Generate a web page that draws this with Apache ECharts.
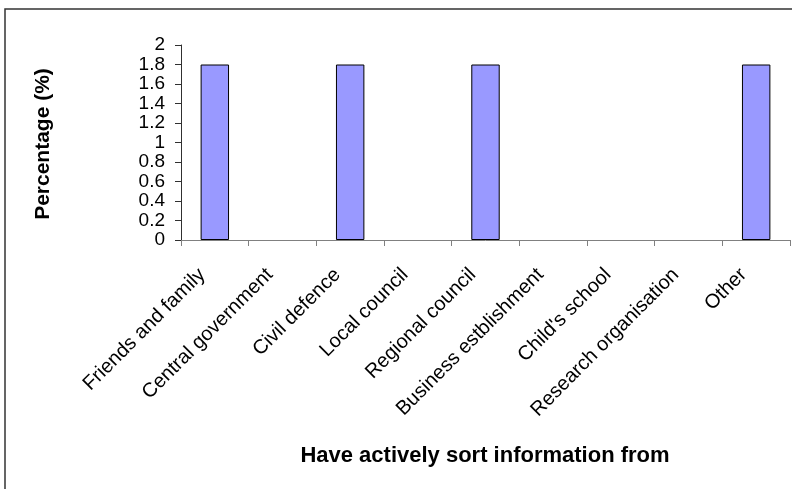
<!DOCTYPE html>
<html>
<head>
<meta charset="utf-8">
<script src="https://cdn.jsdelivr.net/npm/echarts@6/dist/echarts.min.js"></script>
<style>
  html, body { margin: 0; padding: 0; background: #fff; }
  #chart { width: 792px; height: 489px; }
</style>
</head>
<body>
<div id="chart"></div>
<script>
// Sources people actively sought information from
const categories = [
  'Friends and family',
  'Central government',
  'Civil defence',
  'Local council',
  'Regional council',
  'Business estblishment',
  "Child's school",
  'Research organisation',
  'Other'
];
const percentages = [1.8, 0, 1.8, 0, 1.8, 0, 0, 0, 1.8];

const xTitle = 'Have actively sort information from';
const yTitle = 'Percentage (%)';

const FONT = 'Liberation Sans, Arial, sans-serif';

// Zero-height bars get no outline so nothing is drawn for them
const barData = percentages.map(v => (
  v === 0 ? { value: v, itemStyle: { borderWidth: 0 } } : { value: v }
));

const chart = echarts.init(document.getElementById('chart'), null, { renderer: 'canvas' });

chart.setOption({
  animation: false,
  backgroundColor: '#ffffff',
  grid: { left: 181, right: 2, top: 45, bottom: 249, containLabel: false },
  xAxis: {
    type: 'category',
    data: categories,
    boundaryGap: true,
    axisLine: { lineStyle: { color: '#808080', width: 1 } },
    axisTick: { show: true, length: 6, inside: false, lineStyle: { color: '#808080' } },
    axisLabel: {
      interval: 0,
      rotate: 45,
      margin: 19,
      padding: [0, 18, 0, 0],
      color: '#000',
      fontFamily: FONT,
      fontSize: 20
    },
    splitLine: { show: false }
  },
  yAxis: {
    type: 'value',
    min: 0,
    max: 2,
    interval: 0.2,
    axisLine: { show: true, lineStyle: { color: '#303030', width: 1 } },
    axisTick: { show: true, length: 6, lineStyle: { color: '#303030' } },
    axisLabel: {
      margin: 16,
      showMinLabel: true,
      showMaxLabel: true,
      color: '#000',
      fontFamily: FONT,
      fontSize: 19,
      formatter: v => String(Math.round(v * 10) / 10)
    },
    splitLine: { show: false }
  },
  series: [{
    type: 'bar',
    data: barData,
    barWidth: '42%',
    itemStyle: { color: '#9999FF', borderColor: '#000', borderWidth: 1 }
  }],
  graphic: [
    {
      type: 'rect',
      shape: { x: 5, y: 9, width: 800, height: 500 },
      style: { fill: 'none', stroke: '#333', lineWidth: 1.5 },
      silent: true
    },
    {
      type: 'text',
      x: 485, y: 456,
      style: {
        text: xTitle,
        font: 'bold 22px ' + FONT,
        fill: '#000',
        textAlign: 'center',
        textVerticalAlign: 'middle'
      }
    },
    {
      type: 'text',
      x: 43, y: 144,
      rotation: Math.PI / 2,
      style: {
        text: yTitle,
        font: 'bold 21px ' + FONT,
        fill: '#000',
        textAlign: 'center',
        textVerticalAlign: 'middle'
      }
    }
  ]
});
</script>
</body>
</html>
